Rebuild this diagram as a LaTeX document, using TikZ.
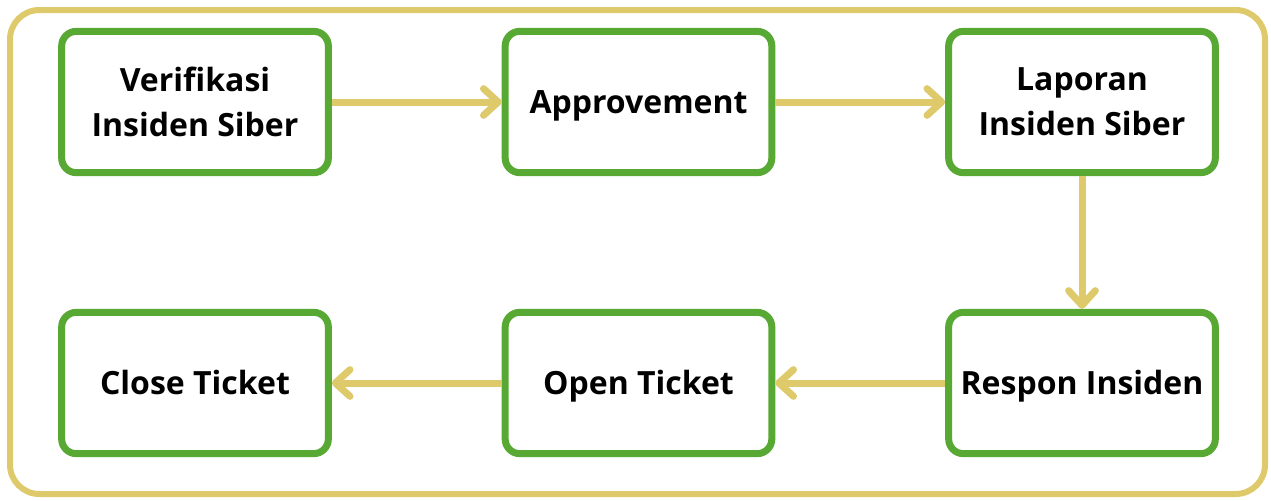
\documentclass[tikz,border=0pt]{standalone}
\usepackage{fontspec}
\setmainfont{Open Sans}
\usetikzlibrary{arrows.meta}
\definecolor{boxgreen}{HTML}{58A834}
\definecolor{arrowyellow}{HTML}{DEC96B}
\def\xsep{443.5}
\def\ysep{281}

\begin{document}
\begin{tikzpicture}[
    x=0.75pt, y=-0.75pt,
    stepbox/.style={
      draw=boxgreen, line width=5.25pt, rounded corners=11pt,
      minimum width=200pt, minimum height=106pt,
      align=center, font=\fontsize{24}{34}\selectfont\bfseries, fill=white
    },
    oneline/.style={
      text height=17pt, text depth=0pt
    },
    arrowtip/.style={
      draw=arrowyellow, line width=5.25pt,
      -{Straight Barb[round, length=11pt, width=20pt]}
    },
    frame/.style={
      draw=arrowyellow, line width=4.5pt, rounded corners=22pt
    }
  ]
    \useasboundingbox (0,0) rectangle (1271,500);
    % outer frame
    \draw[frame] (10,10) rectangle (1265,494);

    % top row
    \node[stepbox]         (verif)   at (195+0*\xsep, 102) {Verifikasi\\Insiden Siber};
    \node[stepbox,oneline] (approve) at (195+1*\xsep, 102) {Approvement};
    \node[stepbox]         (laporan) at (195+2*\xsep, 102) {Laporan\\Insiden Siber};

    % bottom row
    \node[stepbox,oneline] (closeT)  at (195+0*\xsep, 102+\ysep) {Close Ticket};
    \node[stepbox,oneline] (openT)   at (195+1*\xsep, 102+\ysep) {Open Ticket};
    \node[stepbox,oneline] (respon)  at (195+2*\xsep, 102+\ysep) {Respon Insiden};

    % arrows
    \draw[arrowtip] (verif)   -- (approve);
    \draw[arrowtip] (approve) -- (laporan);
    \draw[arrowtip] (laporan) -- (respon);
    \draw[arrowtip] (respon)  -- (openT);
    \draw[arrowtip] (openT)   -- (closeT);
  \end{tikzpicture}
\end{document}
